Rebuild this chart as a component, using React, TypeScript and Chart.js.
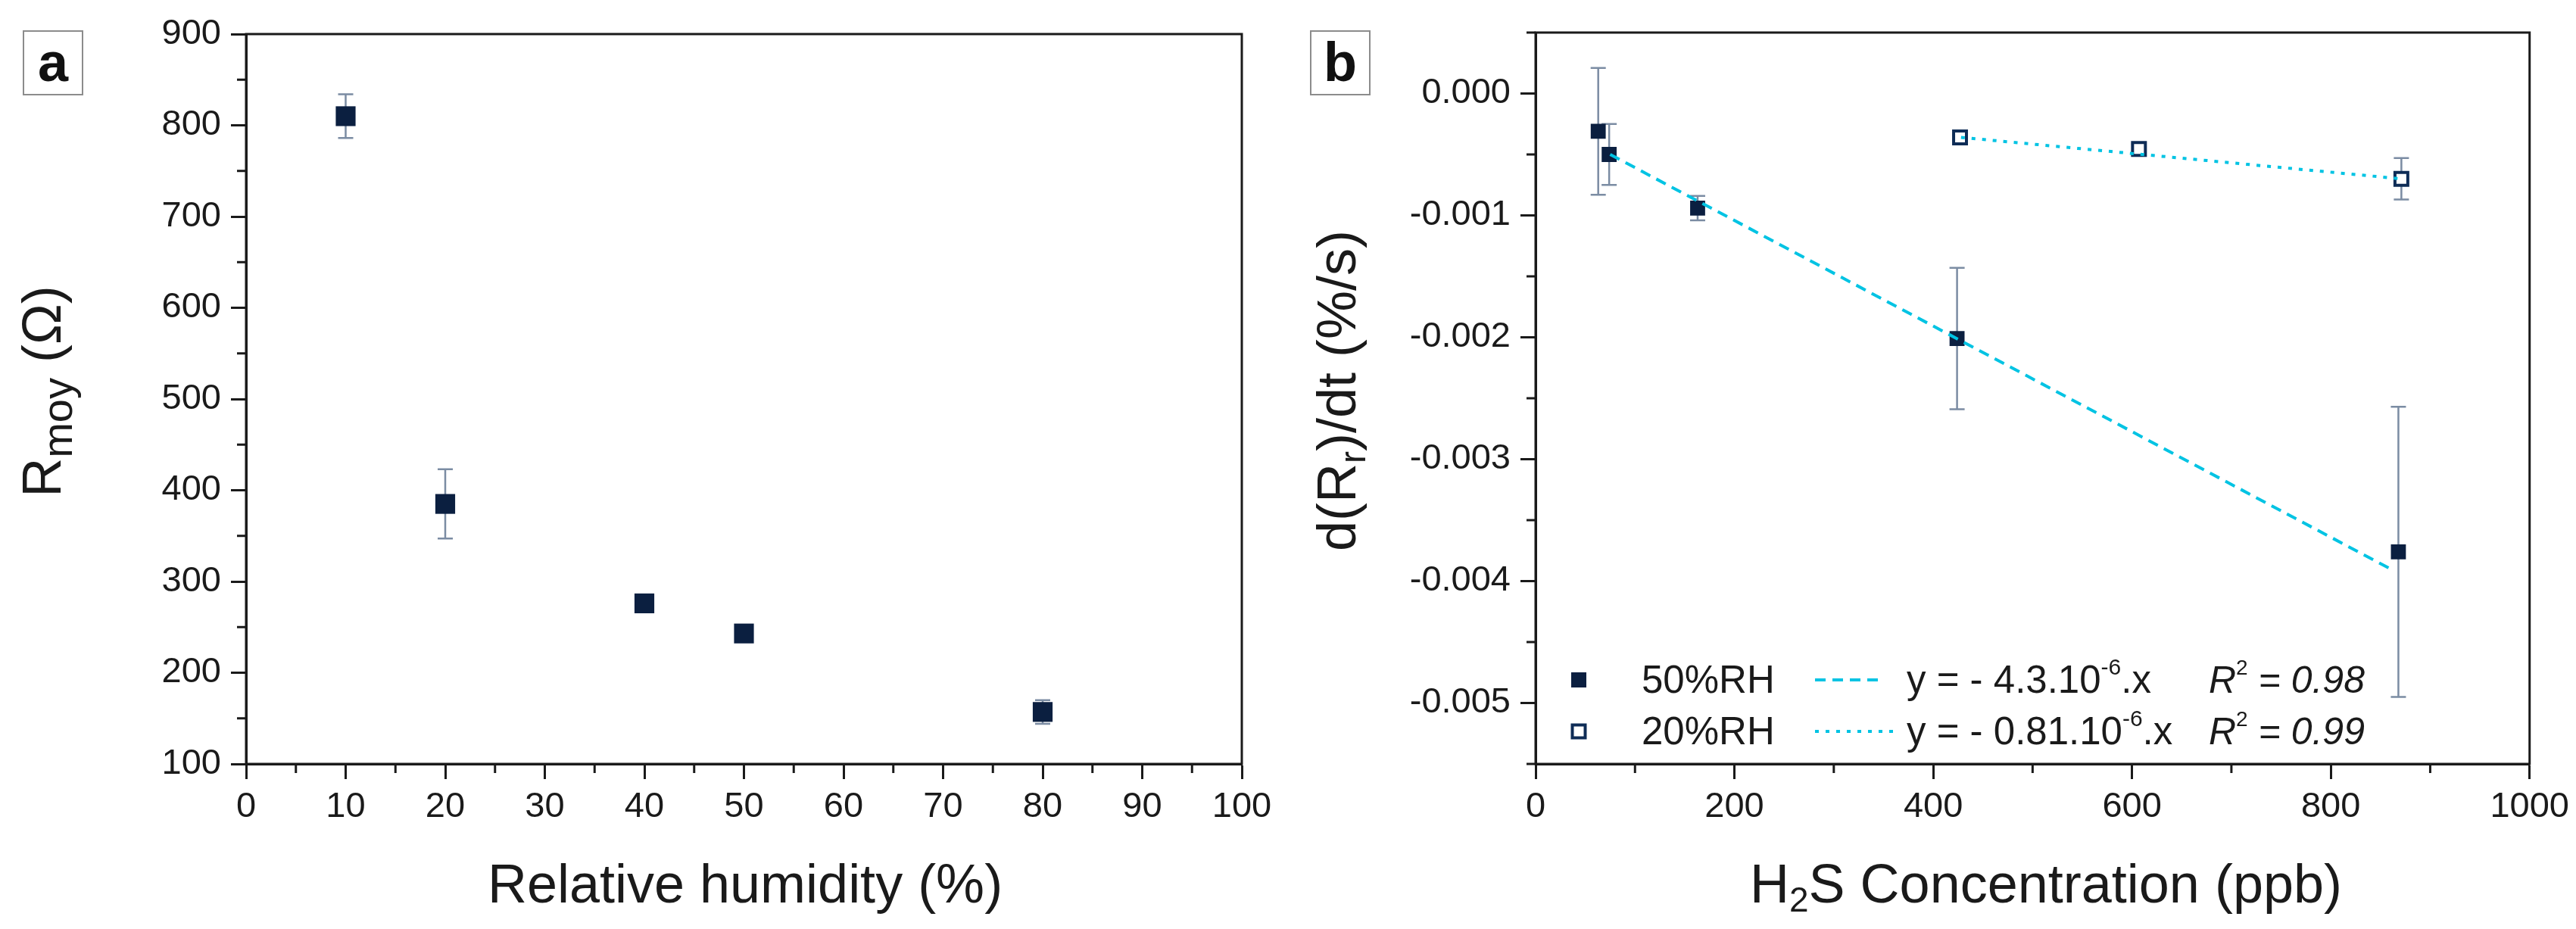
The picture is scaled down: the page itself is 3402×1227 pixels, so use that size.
import React, { useEffect, useRef } from 'react';
import Chart from 'chart.js/auto';

const FONT = '"Liberation Sans", Arial, Helvetica, sans-serif';
const INK = '#1a1a1a';
const NAVY = '#0b1f40';
const NAVY_OPEN = '#0e2c56';
const CYAN = '#00c3e3';
const ERR_COLOR = '#7b8ca3';

// panel a: resistance vs relative humidity
const humidity = [10, 20, 40, 50, 80];
const resistance = [810, 385, 276, 243, 157];
const resistanceErr = [24, 38, 8, 6, 13];
const humidityTicks = [0, 10, 20, 30, 40, 50, 60, 70, 80, 90, 100];
const resistanceTicks = [100, 200, 300, 400, 500, 600, 700, 800, 900];

// panel b: slope vs H2S concentration
const conc50 = [63, 74, 163, 424, 868];
const rate50 = [-0.00031, -0.0005, -0.00094, -0.00201, -0.00376];
const rate50Err = [0.00052, 0.00025, 0.0001, 0.00058, 0.00119];
const conc20 = [427, 607, 871];
const rate20 = [-0.00036, -0.000455, -0.0007];
const rate20Err = [0.00002, 0.00004, 0.00017];
const fit50X = [75, 860];
const fit50Y = [-0.0005, -0.0039];
const fit20X = [428, 871];
const fit20Y = [-0.00036, -0.0007];
const concTicks = [0, 200, 400, 600, 800, 1000];
const rateTicks = [0, -0.001, -0.002, -0.003, -0.004, -0.005];

type Part = { t: string; size: number; dy?: number; italic?: boolean };

function partFont(p: Part) {
  return `${p.italic ? 'italic ' : ''}${p.size}px ${FONT}`;
}

// draws a run of text pieces (for sub/superscripts) on one baseline
function drawParts(ctx: CanvasRenderingContext2D, parts: Part[], x: number, y: number, center: boolean) {
  ctx.textBaseline = 'alphabetic';
  ctx.textAlign = 'left';
  const widths = parts.map((p) => {
    ctx.font = partFont(p);
    return ctx.measureText(p.t).width;
  });
  const total = widths.reduce((a, b) => a + b, 0);
  let cx = center ? x - total / 2 : x;
  parts.forEach((p, i) => {
    ctx.font = partFont(p);
    ctx.fillText(p.t, cx, y + (p.dy || 0));
    cx += widths[i];
  });
}

interface Deco {
  errors: { ds: number; err: number[] }[];
  minorX: number;
  majorX: number;
  minorY: number;
  majorY: number;
  yTitle: { x: number; y: number; parts: Part[] };
  xTitle: { x: number; y: number; parts: Part[] };
  legend?: boolean;
}

function minorTicks(ctx: CanvasRenderingContext2D, scale: any, minor: number, major: number, horizontal: boolean, edge: number) {
  const n = Math.round((scale.max - scale.min) / minor);
  for (let i = 0; i <= n; i++) {
    const v = scale.min + i * minor;
    const r = v / major;
    if (Math.abs(r - Math.round(r)) < 1e-6) continue;
    const p = scale.getPixelForValue(v);
    ctx.beginPath();
    if (horizontal) {
      ctx.moveTo(p, edge);
      ctx.lineTo(p, edge + 12);
    } else {
      ctx.moveTo(edge, p);
      ctx.lineTo(edge - 12, p);
    }
    ctx.stroke();
  }
}

function decoPlugin(d: Deco) {
  return {
    id: 'deco',
    beforeDatasetsDraw(chart: any) {
      const ctx = chart.ctx as CanvasRenderingContext2D;
      const ys = chart.scales.y;
      ctx.save();
      ctx.strokeStyle = ERR_COLOR;
      ctx.lineWidth = 2.5;
      d.errors.forEach(({ ds, err }) => {
        const meta = chart.getDatasetMeta(ds);
        const data = chart.data.datasets[ds].data;
        meta.data.forEach((el: any, j: number) => {
          const v = data[j].y;
          const y1 = ys.getPixelForValue(v + err[j]);
          const y2 = ys.getPixelForValue(v - err[j]);
          ctx.beginPath();
          ctx.moveTo(el.x, y1);
          ctx.lineTo(el.x, y2);
          ctx.moveTo(el.x - 10, y1);
          ctx.lineTo(el.x + 10, y1);
          ctx.moveTo(el.x - 10, y2);
          ctx.lineTo(el.x + 10, y2);
          ctx.stroke();
        });
      });
      ctx.restore();
    },
    afterDraw(chart: any) {
      const ctx = chart.ctx as CanvasRenderingContext2D;
      const a = chart.chartArea;
      ctx.save();
      ctx.strokeStyle = INK;
      ctx.lineWidth = 3;
      ctx.strokeRect(a.left, a.top, a.right - a.left, a.bottom - a.top);
      minorTicks(ctx, chart.scales.x, d.minorX, d.majorX, true, a.bottom);
      minorTicks(ctx, chart.scales.y, d.minorY, d.majorY, false, a.left);

      ctx.fillStyle = INK;
      drawParts(ctx, d.xTitle.parts, d.xTitle.x, d.xTitle.y, true);
      ctx.save();
      ctx.translate(d.yTitle.x, d.yTitle.y);
      ctx.rotate(-Math.PI / 2);
      drawParts(ctx, d.yTitle.parts, 0, 0, true);
      ctx.restore();

      if (d.legend) {
        const rows = [915, 983];
        // markers
        ctx.fillStyle = NAVY;
        ctx.fillRect(375, rows[0] - 27, 20, 20);
        ctx.strokeStyle = NAVY_OPEN;
        ctx.lineWidth = 4;
        ctx.strokeRect(376.5, rows[1] - 25.5, 17, 17);
        // line samples
        ctx.strokeStyle = CYAN;
        ctx.lineWidth = 4;
        ctx.setLineDash([14, 9]);
        ctx.beginPath();
        ctx.moveTo(697, rows[0] - 17);
        ctx.lineTo(783, rows[0] - 17);
        ctx.stroke();
        ctx.setLineDash([5, 9]);
        ctx.beginPath();
        ctx.moveTo(697, rows[1] - 17);
        ctx.lineTo(805, rows[1] - 17);
        ctx.stroke();
        ctx.setLineDash([]);
        // texts
        ctx.fillStyle = INK;
        drawParts(ctx, [{ t: '50%RH', size: 51 }], 468, rows[0], false);
        drawParts(ctx, [{ t: '20%RH', size: 51 }], 468, rows[1], false);
        drawParts(ctx, [
          { t: 'y = - 4.3.10', size: 51 },
          { t: '-6', size: 30, dy: -24 },
          { t: '.x', size: 51 },
        ], 818, rows[0], false);
        drawParts(ctx, [
          { t: 'y = - 0.81.10', size: 51 },
          { t: '-6', size: 30, dy: -24 },
          { t: '.x', size: 51 },
        ], 818, rows[1], false);
        drawParts(ctx, [
          { t: 'R', size: 50, italic: true },
          { t: '2', size: 28, dy: -24 },
          { t: ' = 0.98', size: 50, italic: true },
        ], 1217, rows[0], false);
        drawParts(ctx, [
          { t: 'R', size: 50, italic: true },
          { t: '2', size: 28, dy: -24 },
          { t: ' = 0.99', size: 50, italic: true },
        ], 1217, rows[1], false);
      }
      ctx.restore();
    },
  };
}

function axisOptions(min: number, max: number, tickValues: number[], fmt: (v: number) => string, fit: (s: any) => void, padding: number) {
  return {
    type: 'linear',
    min,
    max,
    afterBuildTicks: (s: any) => {
      s.ticks = tickValues.map((v) => ({ value: v }));
    },
    afterFit: fit,
    grid: {
      drawOnChartArea: false,
      drawTicks: true,
      tickLength: 20,
      tickWidth: 3,
      tickColor: INK,
    },
    border: { display: true, color: INK, width: 3 },
    ticks: {
      font: { family: FONT, size: 47 },
      color: INK,
      padding,
      maxRotation: 0,
      autoSkip: false,
      callback: (v: any) => fmt(Number(v)),
    },
    title: { display: false },
  };
}

function buildA() {
  return {
    type: 'scatter',
    data: {
      datasets: [
        {
          data: humidity.map((x, i) => ({ x, y: resistance[i] })),
          pointStyle: 'rect',
          pointRadius: 18.5,
          backgroundColor: NAVY,
          borderColor: NAVY,
          borderWidth: 0,
        },
      ],
    },
    options: {
      animation: false,
      responsive: true,
      maintainAspectRatio: false,
      events: [],
      layout: { padding: { left: 0, right: 60, top: 45, bottom: 0 } },
      plugins: { legend: { display: false }, tooltip: { enabled: false } },
      scales: {
        x: axisOptions(0, 100, humidityTicks, (v) => String(v), (s: any) => { s.height = 218; }, 9),
        y: axisOptions(100, 900, resistanceTicks, (v) => String(v), (s: any) => { s.width = 325; }, 13),
      },
    },
    plugins: [
      decoPlugin({
        errors: [{ ds: 0, err: resistanceErr }],
        minorX: 5,
        majorX: 10,
        minorY: 50,
        majorY: 100,
        xTitle: { x: 984, y: 1192, parts: [{ t: 'Relative humidity (%)', size: 72 }] },
        yTitle: {
          x: 80,
          y: 517,
          parts: [
            { t: 'R', size: 72 },
            { t: 'moy', size: 56, dy: 15 },
            { t: ' (Ω)', size: 72 },
          ],
        },
      }),
    ],
  };
}

function buildB() {
  return {
    type: 'scatter',
    data: {
      datasets: [
        {
          data: fit50X.map((x, i) => ({ x, y: fit50Y[i] })),
          showLine: true,
          borderColor: CYAN,
          borderWidth: 4,
          borderDash: [14, 9],
          pointRadius: 0,
        },
        {
          data: fit20X.map((x, i) => ({ x, y: fit20Y[i] })),
          showLine: true,
          borderColor: CYAN,
          borderWidth: 4,
          borderDash: [5, 9],
          pointRadius: 0,
        },
        {
          data: conc50.map((x, i) => ({ x, y: rate50[i] })),
          pointStyle: 'rect',
          pointRadius: 14,
          backgroundColor: NAVY,
          borderColor: NAVY,
          borderWidth: 0,
        },
        {
          data: conc20.map((x, i) => ({ x, y: rate20[i] })),
          pointStyle: 'rect',
          pointRadius: 12,
          backgroundColor: '#ffffff',
          borderColor: NAVY_OPEN,
          borderWidth: 4,
        },
      ],
    },
    options: {
      animation: false,
      responsive: true,
      maintainAspectRatio: false,
      events: [],
      layout: { padding: { left: 0, right: 60, top: 43, bottom: 0 } },
      plugins: { legend: { display: false }, tooltip: { enabled: false } },
      scales: {
        x: axisOptions(0, 1000, concTicks, (v) => String(v), (s: any) => { s.height = 218; }, 9),
        y: axisOptions(-0.0055, 0.0005, rateTicks, (v) => v.toFixed(3), (s: any) => { s.width = 328; }, 13),
      },
    },
    plugins: [
      decoPlugin({
        errors: [
          { ds: 2, err: rate50Err },
          { ds: 3, err: rate20Err },
        ],
        minorX: 100,
        majorX: 200,
        minorY: 0.0005,
        majorY: 0.001,
        legend: true,
        xTitle: {
          x: 1002,
          y: 1192,
          parts: [
            { t: 'H', size: 72 },
            { t: '2', size: 46, dy: 12 },
            { t: 'S Concentration (ppb)', size: 72 },
          ],
        },
        yTitle: {
          x: 90,
          y: 516,
          parts: [
            { t: 'd(R', size: 72 },
            { t: 'r', size: 48, dy: 13 },
            { t: ')/dt (%/s)', size: 72 },
          ],
        },
      }),
    ],
  };
}

const ChartPanel: React.FC<{ left: number; width: number; letter: string; build: () => any }> = ({ left, width, letter, build }) => {
  const canvasRef = useRef<HTMLCanvasElement>(null);
  const chartInstance = useRef<Chart | null>(null);

  useEffect(() => {
    if (!canvasRef.current) return;
    if (chartInstance.current) {
      chartInstance.current.destroy();
    }
    chartInstance.current = new Chart(canvasRef.current, build());
    return () => {
      if (chartInstance.current) {
        chartInstance.current.destroy();
        chartInstance.current = null;
      }
    };
  }, [build]);

  return (
    <div style={{ position: 'absolute', left, top: 0, width, height: 1227 }}>
      <canvas ref={canvasRef}></canvas>
      <div
        style={{
          position: 'absolute',
          left: 30,
          top: 40,
          width: 76,
          height: 82,
          border: '2px solid #8c8c8c',
          fontFamily: FONT,
          fontWeight: 'bold',
          fontSize: 72,
          lineHeight: '80px',
          textAlign: 'center',
          color: '#111',
          background: '#fff',
        }}
      >
        {letter}
      </div>
    </div>
  );
};

export default function App() {
  return (
    <div style={{ position: 'absolute', left: 0, top: 0, width: 3402, height: 1227, background: '#fff' }}>
      <ChartPanel left={0} width={1700} letter="a" build={buildA} />
      <ChartPanel left={1700} width={1702} letter="b" build={buildB} />
    </div>
  );
}
